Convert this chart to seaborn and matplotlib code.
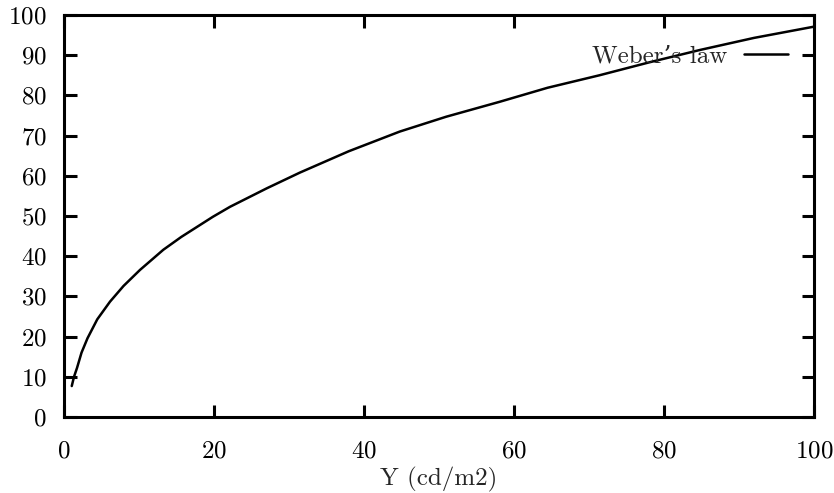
import matplotlib
matplotlib.use("Agg")
from matplotlib import pyplot as plt
import pandas as pd
import seaborn as sns

# Werte
luminance = [1.1, 1.4, 1.8, 2.4, 3.2, 4.5, 6.2, 8.0, 10.2, 13.3, 15.7, 19.9,
             22.2, 27.1, 31.5, 38.0, 44.8, 51.0, 58.1, 64.5, 71.4, 78.0,
             84.8, 92.0, 100.0]
lightness = [7.7, 10.0, 12.2, 16.0, 19.6, 24.3, 28.7, 32.6, 36.6, 41.6, 44.8,
             49.8, 52.3, 56.9, 60.8, 66.1, 71.0, 74.7, 78.4, 81.9, 85.0, 88.2,
             91.3, 94.3, 97.1]
series_label = "Weber’s law"
x_label = "Y (cd/m2)"
x_ticks = [0, 20, 40, 60, 80, 100]
y_ticks = [0, 10, 20, 30, 40, 50, 60, 70, 80, 90, 100]

df = pd.DataFrame({"Y": luminance, "L": lightness})

sns.set_theme(style="ticks")
plt.rcParams["font.family"] = ["cmr10", "DejaVu Serif"]
plt.rcParams["axes.formatter.use_mathtext"] = True
plt.rcParams["font.size"] = 18

fig = plt.figure(figsize=(8.34, 4.93), dpi=100)
ax = fig.add_axes([63.5 / 834, 76 / 493, (814 - 63.5) / 834, (417 - 15) / 493])

sns.lineplot(data=df, x="Y", y="L", ax=ax, color="black", linewidth=1.8,
             label=series_label, sort=False)

ax.set_xlim(0, 100)
ax.set_ylim(0, 100)
ax.set_xticks(x_ticks)
ax.set_yticks(y_ticks)
ax.set_xlabel(x_label, fontsize=18, labelpad=3)
ax.set_ylabel("")

for side in ["top", "bottom", "left", "right"]:
    ax.spines[side].set_visible(True)
    ax.spines[side].set_linewidth(2.2)
    ax.spines[side].set_color("black")

ax.tick_params(axis="both", direction="in", length=9, width=2.2,
               labelsize=18, colors="black", top=True, right=True)
ax.tick_params(axis="x", pad=17)
ax.tick_params(axis="y", pad=12)

leg = ax.legend(loc="upper right", bbox_to_anchor=(0.965, 0.925), frameon=False,
                markerfirst=False, handlelength=1.76, handletextpad=0.64,
                borderaxespad=0, borderpad=0, fontsize=18)

fig.savefig("out.png", dpi=100)
